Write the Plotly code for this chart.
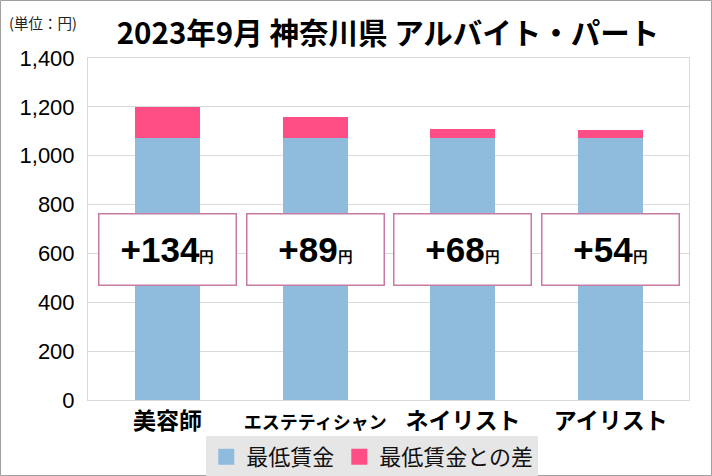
import plotly.graph_objects as go

# データ
shokushu = ["美容師", "エステティシャン", "ネイリスト", "アイリスト"]
saitei_chingin = [1071, 1071, 1071, 1071]
sa_bar = [130, 89, 40, 33]          # グラフ上の差の高さ
sa_label = [134, 89, 68, 54]        # ボックスの表示値
tick_vals = [0, 200, 400, 600, 800, 1000, 1200, 1400]
tick_text = ["0", "200", "400", "600", "800", "1,000", "1,200", "1,400"]

jp = "Noto Sans CJK JP"
num = "Liberation Sans, Arial"
c_blue = "#8FBBDD"
c_pink = "#FF4D85"

ticktext_x = ["<b>" + s + "</b>" if s != "エステティシャン"
              else "<span style='font-size:18px'><b>" + s + "</b></span>"
              for s in shokushu]

fig = go.Figure()
fig.add_trace(go.Bar(x=shokushu, y=saitei_chingin, name="最低賃金", showlegend=False,
                     marker=dict(color=c_blue, line=dict(width=0))))
fig.add_trace(go.Bar(x=shokushu, y=sa_bar, name="最低賃金との差", showlegend=False,
                     marker=dict(color=c_pink, line=dict(width=0))))
# 凡例用（四角を大きく）
for nm, c in [("最低賃金", c_blue), ("最低賃金との差", c_pink)]:
    fig.add_trace(go.Scatter(x=[None], y=[None], mode="markers", name=nm,
                             marker=dict(symbol="square", size=18, color=c)))

# +○○円 のボックス
for s, v in zip(shokushu, sa_label):
    fig.add_annotation(
        x=s, y=616, xref="x", yref="y",
        text="<b>+" + str(v) + "<span style='font-size:15px'>円</span></b>",
        showarrow=False, font=dict(family=num, size=35, color="black"),
        bgcolor="white", bordercolor="#C77BA3", borderwidth=1.5, borderpad=2,
        width=132, height=66, align="center", valign="middle",
    )

fig.add_annotation(text="(単位：円)", xref="paper", yref="paper", x=-0.135, y=1.105,
                   xanchor="left", yanchor="middle", showarrow=False,
                   font=dict(family=jp, size=14.5, color="#222"))

# 外枠
fig.add_shape(type="rect", xref="paper", yref="paper",
              x0=-87.5 / 601, x1=1 + 22.5 / 601, y0=-75.5 / 342, y1=1 + 57.5 / 342,
              line=dict(color="#A0A0A0", width=1), layer="below")

fig.update_layout(
    width=712, height=476,
    margin=dict(l=88, r=23, t=58, b=76, autoexpand=False),
    barmode="stack", bargap=0.56,
    paper_bgcolor="white", plot_bgcolor="white",
    title=dict(text="<b>2023年9月 神奈川県 アルバイト・パート</b>",
               x=0.545, xanchor="center", y=0.93, yanchor="middle",
               font=dict(family=jp, size=29.5, color="black")),
    legend=dict(orientation="h", x=0.473, xanchor="center", y=-0.105, yanchor="top",
                bgcolor="#E6E6E6", font=dict(family=jp, size=22, color="#111"),
                itemsizing="trace", traceorder="normal", itemwidth=30),
    showlegend=True,
)
fig.update_xaxes(tickvals=shokushu, ticktext=ticktext_x, range=[-0.538, 3.53],
                 tickfont=dict(family=jp, size=23, color="black"),
                 showline=True, linecolor="#D9D9D9", mirror=True, ticks="",
                 ticklabelstandoff=0)
fig.update_yaxes(range=[0, 1400], tickvals=tick_vals, ticktext=tick_text,
                 tickfont=dict(family=num, size=22, color="black"),
                 showgrid=True, gridcolor="#D9D9D9", zeroline=False,
                 showline=True, linecolor="#D9D9D9", mirror=True, ticks="",
                 ticklabelstandoff=8)

# ページの余白を無くす
fig.write_html("out.html", config={"displayModeBar": False},
               post_script="document.body.style.margin='0px';")
